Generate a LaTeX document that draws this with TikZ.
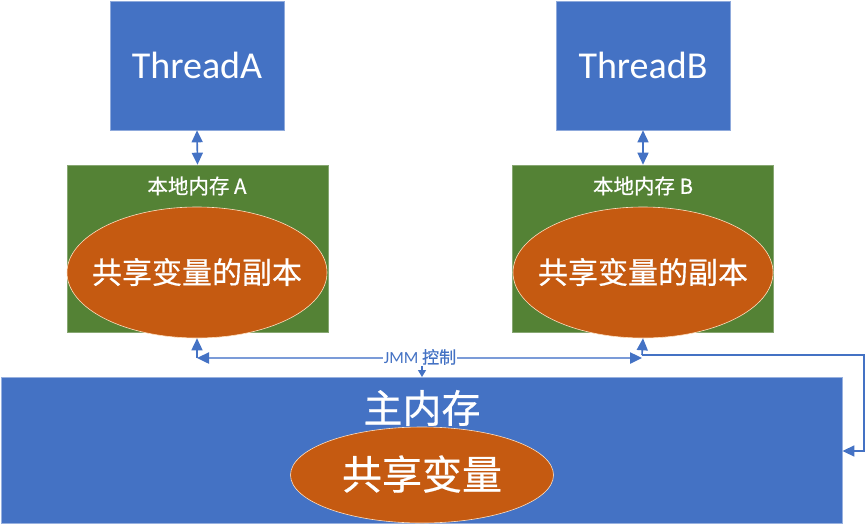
\documentclass[tikz,border=0pt]{standalone}
\usepackage{fontspec}
\setmainfont{Carlito}
\newfontfamily\cjk{Noto Sans CJK SC}[UprightFeatures={FakeBold=0.6}]
\usetikzlibrary{arrows.meta,calc,shapes.geometric}
\definecolor{pblue}{HTML}{4472C4}
\definecolor{pgreen}{HTML}{548235}
\definecolor{porange}{HTML}{C55A11}
\definecolor{pline}{HTML}{7B9BD8}
\tikzset{
  threadbox/.style={rectangle,fill=pblue,draw=pblue!60!white,line width=0.6pt,minimum width=174pt,minimum height=129pt,inner sep=0pt,text=white,font=\fontsize{38}{40}\selectfont},
  localbox/.style={rectangle,fill=pgreen,draw=pgreen!70!white,line width=0.6pt,minimum width=261pt,minimum height=167pt,inner sep=0pt},
  mainbox/.style={rectangle,fill=pblue,draw=pblue!55!white,line width=0.8pt,minimum width=841pt,minimum height=146pt,inner sep=0pt},
  copyell/.style={ellipse,fill=porange,draw=orange!25!white,line width=0.6pt,minimum width=260pt,minimum height=131pt,inner sep=0pt},
  mainell/.style={ellipse,fill=porange,draw=orange!25!white,line width=0.6pt,minimum width=263pt,minimum height=96pt,inner sep=0pt},
  copytext/.style={text=white,inner sep=0pt,font=\cjk\fontsize{30}{32}\selectfont},
  maintext/.style={text=white,inner sep=0pt,font=\cjk\fontsize{40}{42}\selectfont},
  loclabel/.style={text=white,inner sep=0pt,font=\cjk\fontsize{20.5}{22}\selectfont},
  mainlabel/.style={text=white,inner sep=0pt,font=\cjk\fontsize{39}{41}\selectfont},
  conn/.style={draw=pblue,line width=1.6pt,arrows={-Triangle[length=12pt,width=11pt]}},
  dconn/.style={draw=pblue,line width=1.6pt,arrows={Triangle[length=12pt,width=11pt]-Triangle[length=12pt,width=11pt]}},
  thinconn/.style={draw=pblue,line width=1.2pt},
  jmmline/.style={draw=pline,line width=2.4pt,arrows={Triangle[length=12pt,width=11pt,color=pblue]-Triangle[length=12pt,width=11pt,color=pblue]}},
  jmmlabel/.style={fill=white,text=pblue,inner sep=1pt,font=\fontsize{17}{19}\selectfont},
}
\begin{document}
\begin{tikzpicture}[x=1pt,y=-1pt]
\useasboundingbox (0,0) rectangle (866,525);
% thread boxes
\node[threadbox] (ta) at (197,65.5) {ThreadA};
\node[threadbox] (tb) at (643,65.5) {ThreadB};
% local memories
\node[localbox] (la) at (197.5,248.5) {};
\node[localbox] (lb) at (643,248.5) {};
\node[loclabel] (lal) at (197,186) {本地内存 A};
\node[loclabel] (lbl) at (643,186) {本地内存 B};
\node[copyell] (ea) at (197,272.5) {};
\node[copyell] (eb) at (643,272.5) {};
\node[copytext] (eat) at (197,272) {共享变量的副本};
\node[copytext] (ebt) at (643,272) {共享变量的副本};
% main memory
\node[mainbox] (mm) at (421.5,450) {};
\node[mainlabel] (mml) at (422,408) {主内存};
\node[mainell] (me) at (422,475) {};
\node[maintext] (met) at (422,474) {共享变量};
% thread <-> local
\draw[dconn] (ta.south) -- (la.north);
\draw[dconn] (tb.south) -- (lb.north);
% JMM control
\coordinate (cl) at (197,358);
\coordinate (cr) at (642,358);
\coordinate (crr) at (642,355);
\coordinate (rt) at (864,355);
\coordinate (rb) at (864,451);
\draw[conn] (cl) -- (ea.south);
\draw[conn] (crr) -- (eb.south);
\draw[jmmline] (cl) -- (cr);
\node[jmmlabel] (jmm) at (420,357) {JMM {\cjk 控制}};
\draw[thinconn,arrows={-Triangle[length=7pt,width=8pt]}] (jmm.south -| 422,0) -- (422,377);
% right loop to main memory
\draw[conn] (crr) -- (rt) -- (rb) -- (mm.east |- rb);
\end{tikzpicture}
\end{document}
